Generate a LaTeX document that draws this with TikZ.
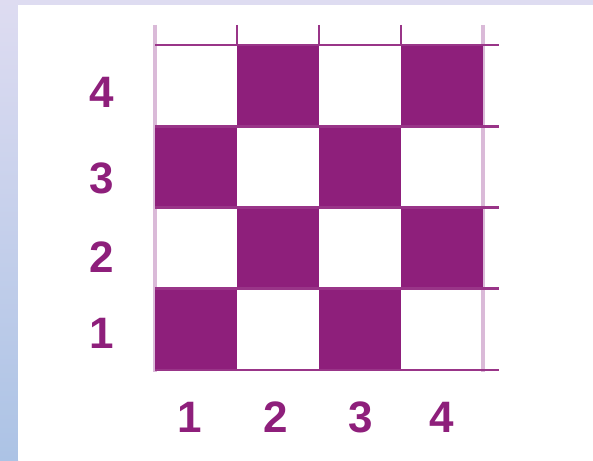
\documentclass[tikz,border=0pt]{standalone}
\usepackage{fontspec}
\setmainfont{Liberation Sans}
\usetikzlibrary{positioning}
\definecolor{plum}{RGB}{142,31,123}
\definecolor{lilac}{RGB}{218,186,216}
\definecolor{haze}{RGB}{222,220,241}
\definecolor{sky}{RGB}{172,195,229}
\tikzset{
  cell/.style={fill=plum},
  rule/.style={plum!90, line width=2.6pt},
  rim/.style={lilac, line width=4.5pt},
  num/.style={text=plum, inner sep=0pt, font=\fontsize{44}{44}\selectfont\bfseries}
}

\begin{document}
\begin{tikzpicture}[x=1pt,y=-1pt]
    \useasboundingbox (0,0) rectangle (593,460);
    % backdrop: tinted frame on the left and top, white panel
    \shade[top color=haze,bottom color=sky] (0,0) rectangle (18,460);
    \fill[haze] (18,0) rectangle (593,5);
    \fill[white] (18,5) rectangle (593,460);
    % light outer edges of the board
    \draw[rim] (155,25) -- (155,372);  \draw[rim] (483,25) -- (483,372);
    % dark squares, column/row
    \foreach \c/\r in {2/4,4/4,1/3,3/3,2/2,4/2,1/1,3/1}
        \fill[cell] ({155+82*(\c-1)},{370-81.25*\r}) rectangle ++(82,81.25);
    % row rules and column ticks
    \foreach \y in {45,126.25,207.5,288.75,370}
        \draw[rule] (155,\y) -- (499,\y);
    \foreach \x in {237,319,401}
        \draw[rule] (\x,25) -- (\x,45);
    % axis numbers
    \foreach \n/\y in {4/92,3/178,2/257,1/333}
        \node[num] (row\n) at (102,\y) {\n};
    \foreach \n/\x in {1/190,2/276,3/361,4/442}
        \node[num] (col\n) at (\x,417) {\n};
\end{tikzpicture}
\end{document}
